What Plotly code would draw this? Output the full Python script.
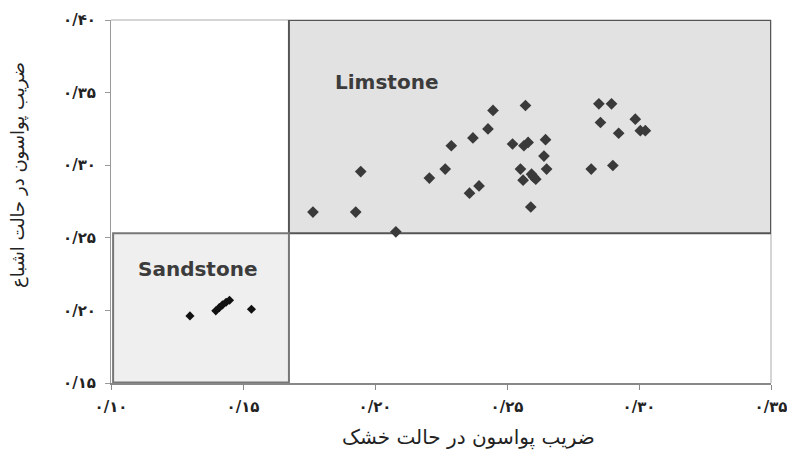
import plotly.graph_objects as go

# ---- data ----
lime_x = [0.1765, 0.1927, 0.1946, 0.2079, 0.2206, 0.2266, 0.2289, 0.2358, 0.2394,
          0.2371, 0.2428, 0.2447, 0.2570, 0.2521, 0.2564, 0.2580, 0.2646, 0.2640,
          0.2650, 0.2551, 0.2561, 0.2593, 0.2609, 0.2600, 0.2590, 0.2848, 0.2896,
          0.2854, 0.2923, 0.2986, 0.3005, 0.3024, 0.2819, 0.2901]
lime_y = [0.2677, 0.2677, 0.2956, 0.2541, 0.2911, 0.2973, 0.3134, 0.2807, 0.2857,
          0.3188, 0.3250, 0.3377, 0.3411, 0.3146, 0.3134, 0.3157, 0.3176, 0.3063,
          0.2973, 0.2973, 0.2897, 0.2938, 0.2904, 0.2920, 0.2712, 0.3423, 0.3423,
          0.3294, 0.3220, 0.3317, 0.3238, 0.3238, 0.2973, 0.2998]

sand_x = [0.1299, 0.1397, 0.1410, 0.1422, 0.1436, 0.1449, 0.1532]
sand_y = [0.1962, 0.1997, 0.2019, 0.2038, 0.2056, 0.2070, 0.2008]

x_tick_vals = [0.10, 0.15, 0.20, 0.25, 0.30, 0.35]
x_tick_text = ["۰/۱۰", "۰/۱۵", "۰/۲۰", "۰/۲۵", "۰/۳۰", "۰/۳۵"]
y_tick_vals = [0.15, 0.20, 0.25, 0.30, 0.35, 0.40]
y_tick_text = ["۰/۱۵", "۰/۲۰", "۰/۲۵", "۰/۳۰", "۰/۳۵", "۰/۴۰"]

x_title = "ضریب پواسون در حالت خشک"
y_title = "ضریب پواسون در حالت اشباع"

# region boundaries
split_x = 0.1674
split_y = 0.2531

L, R, T, B = 111, 16, 20, 70
W, H = 787, 453
pw = W - L - R
ph = H - T - B

fig = go.Figure()

fig.add_shape(type="rect", xref="x", yref="y", x0=split_x, x1=0.35, y0=split_y, y1=0.40,
              fillcolor="#e2e2e2", line=dict(color="#555555", width=2), layer="below")
fig.add_shape(type="rect", xref="x", yref="y", x0=0.1008, x1=split_x, y0=0.1503, y1=split_y,
              fillcolor="#efefef", line=dict(color="#777777", width=2), layer="below")

fig.add_trace(go.Scatter(x=lime_x, y=lime_y, mode="markers",
                         marker=dict(symbol="diamond", size=9, color="#3a3a3a"),
                         showlegend=False))
fig.add_trace(go.Scatter(x=sand_x, y=sand_y, mode="markers",
                         marker=dict(symbol="diamond", size=7, color="#111111"),
                         showlegend=False))

fig.add_annotation(x=0.2044, y=0.3572, xref="x", yref="y", text="<b>Limstone</b>",
                   showarrow=False, font=dict(family="DejaVu Sans", size=20, color="#3c3c3c"))
fig.add_annotation(x=0.1328, y=0.2283, xref="x", yref="y", text="<b>Sandstone</b>",
                   showarrow=False, font=dict(family="DejaVu Sans", size=20, color="#3c3c3c"))

fig.add_annotation(x=(468 - L) / pw, y=-(437 - T - ph) / ph, xref="paper", yref="paper",
                   xanchor="center", yanchor="middle",
                   text=x_title, showarrow=False,
                   font=dict(family="DejaVu Sans", size=20, color="#222222"))
fig.add_annotation(x=-(L - 18) / pw, y=1 - (175 - T) / ph, xref="paper", yref="paper",
                   xanchor="center", yanchor="middle",
                   text=y_title, showarrow=False, textangle=-90,
                   font=dict(family="DejaVu Sans", size=18, color="#222222"))

fig.update_layout(
    width=W, height=H,
    margin=dict(l=L, r=R, t=T, b=B),
    plot_bgcolor="white", paper_bgcolor="white",
    showlegend=False,
)

fig.update_xaxes(range=[0.10, 0.35], tickvals=x_tick_vals, ticktext=x_tick_text,
                 automargin=False, ticklabeloverflow="allow", ticklabelstandoff=4,
                 showgrid=False, zeroline=False, showline=True, linecolor="#888888", linewidth=2,
                 ticks="outside", ticklen=5, tickcolor="#888888",
                 tickfont=dict(family="DejaVu Sans", size=15, color="#222222", weight="bold"))
fig.update_yaxes(range=[0.15, 0.40], tickvals=y_tick_vals, ticktext=y_tick_text,
                 automargin=False, ticklabeloverflow="allow", ticklabelstandoff=6,
                 showgrid=False, zeroline=False, showline=True, linecolor="#999999", linewidth=1,
                 ticks="outside", ticklen=5, tickcolor="#999999",
                 tickfont=dict(family="DejaVu Sans", size=15, color="#222222", weight="bold"))

# light frame top and right
fig.add_shape(type="line", xref="paper", yref="paper", x0=0, x1=1, y0=1, y1=1,
              line=dict(color="#aaaaaa", width=1), layer="below")
fig.add_shape(type="line", xref="paper", yref="paper", x0=1, x1=1, y0=0, y1=1,
              line=dict(color="#aaaaaa", width=1), layer="below")

fig.write_html("out.html")
